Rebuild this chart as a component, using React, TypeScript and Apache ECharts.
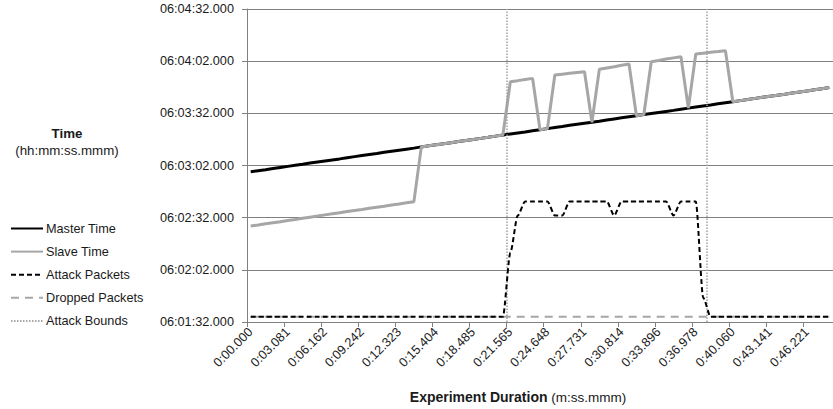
import React, { useEffect, useRef } from "react";
import * as echarts from "echarts";

const FONT = "'Liberation Sans', Arial, Helvetica, sans-serif";

// Experiment duration categories (m:ss.mmm), one sample every ~0.616 s
const durations: string[] = [
  "0:00.000", "0:00.616", "0:01.232", "0:01.849", "0:02.465",
  "0:03.081", "0:03.697", "0:04.313", "0:04.930", "0:05.546",
  "0:06.162", "0:06.778", "0:07.394", "0:08.010", "0:08.626",
  "0:09.242", "0:09.858", "0:10.474", "0:11.091", "0:11.707",
  "0:12.323", "0:12.939", "0:13.555", "0:14.172", "0:14.788",
  "0:15.404", "0:16.020", "0:16.636", "0:17.253", "0:17.869",
  "0:18.485", "0:19.101", "0:19.717", "0:20.333", "0:20.949",
  "0:21.565", "0:22.182", "0:22.798", "0:23.415", "0:24.031",
  "0:24.648", "0:25.265", "0:25.881", "0:26.498", "0:27.114",
  "0:27.731", "0:28.348", "0:28.964", "0:29.581", "0:30.197",
  "0:30.814", "0:31.430", "0:32.047", "0:32.663", "0:33.280",
  "0:33.896", "0:34.512", "0:35.129", "0:35.745", "0:36.362",
  "0:36.978", "0:37.594", "0:38.211", "0:38.827", "0:39.444",
  "0:40.060", "0:40.676", "0:41.292", "0:41.909", "0:42.525",
  "0:43.141", "0:43.757", "0:44.373", "0:44.989", "0:45.605",
  "0:46.221", "0:46.837", "0:47.453", "0:48.070",
];

// Y tick labels (value axis in seconds after 06:01:32.000, every 30 s)
const timeTickLabels: string[] = [
  "06:01:32.000", "06:02:02.000", "06:02:32.000", "06:03:02.000",
  "06:03:32.000", "06:04:02.000", "06:04:32.000",
];

// Master time, seconds after 06:01:32.000
const masterTime: number[] = [
  86.4, 87.0, 87.6, 88.3, 88.9, 89.5, 90.1, 90.7, 91.4, 92.0,
  92.6, 93.2, 93.8, 94.5, 95.1, 95.7, 96.3, 96.9, 97.6, 98.2,
  98.8, 99.4, 100.0, 100.7, 101.3, 101.9, 102.5, 103.1, 103.8, 104.4,
  105.0, 105.6, 106.2, 106.9, 107.5, 108.1, 108.7, 109.3, 110.0, 110.6,
  111.2, 111.8, 112.4, 113.1, 113.7, 114.3, 114.9, 115.5, 116.2, 116.8,
  117.4, 118.0, 118.6, 119.3, 119.9, 120.5, 121.1, 121.7, 122.4, 123.0,
  123.6, 124.2, 124.8, 125.5, 126.1, 126.7, 127.3, 127.9, 128.6, 129.2,
  129.8, 130.4, 131.0, 131.7, 132.3, 132.9, 133.5, 134.1, 134.8,
];

// Slave time, seconds after 06:01:32.000
const slaveTime: number[] = [
  55.2, 55.8, 56.5, 57.1, 57.7, 58.4, 59.0, 59.7, 60.3, 60.9,
  61.6, 62.2, 62.8, 63.5, 64.1, 64.7, 65.4, 66.0, 66.6, 67.3,
  67.9, 68.6, 69.2, 100.7, 101.3, 101.9, 102.5, 103.1, 103.8, 104.4,
  105.0, 105.6, 106.2, 106.9, 107.5, 138.2, 138.8, 139.5, 140.1, 110.6,
  111.2, 142.0, 142.5, 143.0, 143.5, 143.9, 114.9, 145.3, 146.1, 146.8,
  147.6, 148.4, 118.6, 119.3, 149.7, 150.4, 151.2, 151.9, 152.6, 123.0,
  154.1, 154.6, 155.1, 155.5, 156.0, 126.7, 127.3, 127.9, 128.6, 129.2,
  129.8, 130.4, 131.0, 131.7, 132.3, 132.9, 133.5, 134.1, 134.8,
];

// Attack packets (secondary, hidden scale)
const attackPackets: number[] = [
  0, 0, 0, 0, 0, 0, 0, 0, 0, 0,
  0, 0, 0, 0, 0, 0, 0, 0, 0, 0,
  0, 0, 0, 0, 0, 0, 0, 0, 0, 0,
  0, 0, 0, 0, 0, 250, 395, 450, 450, 450,
  450, 395, 395, 450, 450, 450, 450, 450, 450, 395,
  450, 450, 450, 450, 450, 450, 450, 395, 450, 450,
  450, 75, 0, 0, 0, 0, 0, 0, 0, 0,
  0, 0, 0, 0, 0, 0, 0, 0, 0,
];

// Dropped packets (secondary, hidden scale)
const droppedPackets: number[] = [
  0, 0, 0, 0, 0, 0, 0, 0, 0, 0,
  0, 0, 0, 0, 0, 0, 0, 0, 0, 0,
  0, 0, 0, 0, 0, 0, 0, 0, 0, 0,
  0, 0, 0, 0, 0, 0, 0, 0, 0, 0,
  0, 0, 0, 0, 0, 0, 0, 0, 0, 0,
  0, 0, 0, 0, 0, 0, 0, 0, 0, 0,
  0, 0, 0, 0, 0, 0, 0, 0, 0, 0,
  0, 0, 0, 0, 0, 0, 0, 0, 0,
];

// Attack bounds: category boundaries where the attack starts and ends
const attackBounds: number[] = [35, 62];

export default function App() {
  const ref = useRef<HTMLDivElement>(null);

  useEffect(() => {
    if (!ref.current) return;
    const chart = echarts.init(ref.current, undefined, { renderer: "svg" });
    const gridColor = "#808080";
    const textColor = "#1a1a1a";
    const option: any = {
      animation: false,
      backgroundColor: "#ffffff",
      textStyle: { fontFamily: FONT },
      grid: { left: 247, top: 9, bottom: 87, right: -3, containLabel: false },
      legend: {
        orient: "vertical",
        left: 10,
        top: 222,
        padding: 0,
        itemWidth: 32,
        itemHeight: 14,
        itemGap: 10.1,
        selectedMode: false,
        itemStyle: { opacity: 0 },
        textStyle: { fontSize: 12.7, color: textColor, fontFamily: FONT, padding: [0, 0, 0, -2] },
        data: ["Master Time", "Slave Time", "Attack Packets", "Dropped Packets", "Attack Bounds"],
      },
      xAxis: [
        {
          type: "category",
          data: durations,
          boundaryGap: true,
          axisLine: { lineStyle: { color: gridColor, width: 1 } },
          axisTick: { show: true, interval: 4, length: 5, lineStyle: { color: gridColor } },
          axisLabel: {
            interval: 4,
            rotate: 45,
            margin: 8,
            fontSize: 12.7,
            color: textColor,
            fontFamily: FONT,
          },
          splitLine: { show: false },
        },
        {
          type: "value",
          min: 0,
          max: durations.length,
          show: false,
        },
      ],
      yAxis: [
        {
          type: "value",
          min: 0,
          max: 180,
          interval: 30,
          axisLine: { show: true, lineStyle: { color: gridColor, width: 1 } },
          axisTick: { show: true, length: 5, lineStyle: { color: gridColor } },
          axisLabel: {
            margin: 13,
            fontSize: 12.7,
            color: textColor,
            fontFamily: FONT,
            formatter: (v: number) => timeTickLabels[Math.round(v / 30)] ?? "",
          },
          splitLine: { show: true, lineStyle: { color: gridColor, width: 1 } },
        },
        {
          type: "value",
          min: -20,
          max: 1200,
          show: false,
          splitLine: { show: false },
        },
      ],
      series: [
        {
          name: "Master Time",
          type: "line",
          data: masterTime,
          symbol: "none",
          lineStyle: { color: "#000000", width: 3 },
          itemStyle: { color: "#000000" },
          z: 3,
        },
        {
          name: "Slave Time",
          type: "line",
          data: slaveTime,
          symbol: "none",
          lineStyle: { color: "#a6a6a6", width: 3 },
          itemStyle: { color: "#a6a6a6" },
          z: 4,
        },
        {
          name: "Attack Packets",
          type: "line",
          yAxisIndex: 1,
          data: attackPackets,
          symbol: "none",
          smooth: 0.25,
          smoothMonotone: "x",
          lineStyle: { color: "#000000", width: 2, type: [5, 3] },
          itemStyle: { color: "#000000" },
          z: 5,
        },
        {
          name: "Dropped Packets",
          type: "line",
          yAxisIndex: 1,
          data: droppedPackets,
          symbol: "none",
          lineStyle: { color: "#a6a6a6", width: 2, type: [8, 6] },
          itemStyle: { color: "#a6a6a6" },
          z: 4,
        },
        {
          name: "Attack Bounds",
          type: "line",
          xAxisIndex: 1,
          yAxisIndex: 0,
          data: [],
          symbol: "none",
          lineStyle: { color: "#a6a6a6", width: 1.5, type: [1.5, 1.5] },
          itemStyle: { color: "#a6a6a6" },
          markLine: {
            silent: true,
            symbol: ["none", "none"],
            label: { show: false },
            lineStyle: { color: "#a0a0a0", width: 1.5, type: [1.5, 1.5] },
            data: attackBounds.map((b) => ({ xAxis: b })),
          },
          z: 2,
        },
      ],
      graphic: [
        {
          type: "text",
          x: 67,
          y: 133,
          style: {
            text: "Time",
            fontFamily: FONT,
            fontWeight: "bold",
            fontSize: 13.3,
            fill: textColor,
            textAlign: "center",
            textVerticalAlign: "middle",
          },
        },
        {
          type: "text",
          x: 67,
          y: 150,
          style: {
            text: "(hh:mm:ss.mmm)",
            fontFamily: FONT,
            fontSize: 13.3,
            fill: textColor,
            textAlign: "center",
            textVerticalAlign: "middle",
          },
        },
        {
          type: "text",
          x: 518,
          y: 397,
          style: {
            text: "{b|Experiment Duration} (m:ss.mmm)",
            rich: {
              b: { fontFamily: FONT, fontWeight: "bold", fontSize: 14, fill: textColor },
            },
            fontFamily: FONT,
            fontSize: 13.5,
            fill: textColor,
            textAlign: "center",
            textVerticalAlign: "middle",
          },
        },
      ],
    };
    chart.setOption(option);
    return () => {
      chart.dispose();
    };
  }, []);

  return (
    <div
      ref={ref}
      style={{ position: "fixed", left: 0, top: 0, width: 833, height: 409, background: "#fff" }}
    />
  );
}
